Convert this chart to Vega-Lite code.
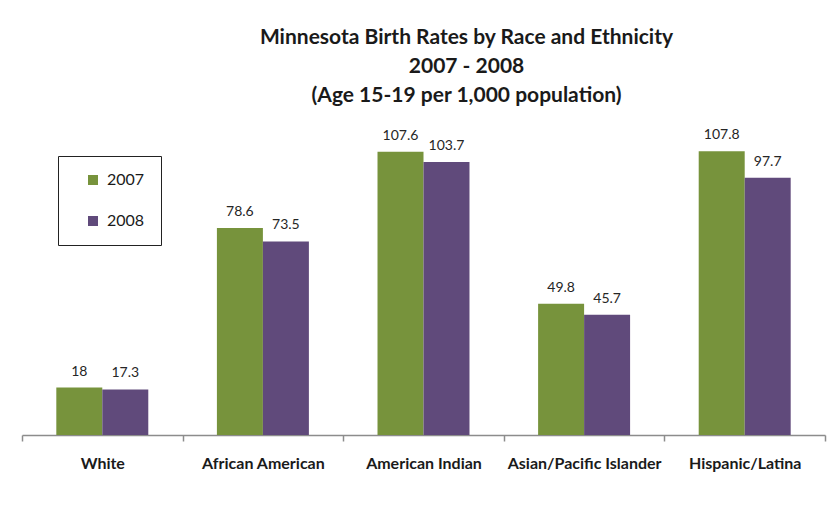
{
  "$schema": "https://vega.github.io/schema/vega-lite/v6.json",
  "width": 803,
  "height": 316,
  "autosize": {"type": "none"},
  "padding": {"left": 22, "top": 119, "right": 15, "bottom": 82},
  "background": "white",
  "title": {
    "text": ["Minnesota Birth Rates by Race and Ethnicity", "2007 - 2008", "(Age 15-19 per 1,000 population)"],
    "font": "Lato",
    "fontSize": 21,
    "fontWeight": "bold",
    "color": "#1a1a1a",
    "lineHeight": 29,
    "anchor": "middle",
    "dx": 43,
    "offset": 13
  },
  "data": {
    "values": [
      {"race": "White", "year": "2007", "rate": 18},
      {"race": "White", "year": "2008", "rate": 17.3},
      {"race": "African American", "year": "2007", "rate": 78.6},
      {"race": "African American", "year": "2008", "rate": 73.5},
      {"race": "American Indian", "year": "2007", "rate": 107.6},
      {"race": "American Indian", "year": "2008", "rate": 103.7},
      {"race": "Asian/Pacific Islander", "year": "2007", "rate": 49.8},
      {"race": "Asian/Pacific Islander", "year": "2008", "rate": 45.7},
      {"race": "Hispanic/Latina", "year": "2007", "rate": 107.8},
      {"race": "Hispanic/Latina", "year": "2008", "rate": 97.7}
    ]
  },
  "encoding": {
    "x": {
      "field": "race",
      "type": "nominal",
      "sort": ["White", "African American", "American Indian", "Asian/Pacific Islander", "Hispanic/Latina"],
      "scale": {"paddingInner": 0, "paddingOuter": 0},
      "axis": {
        "title": null,
        "labelAngle": 0,
        "tickBand": "extent",
        "domainColor": "#8c8c8c",
        "domainWidth": 1.5,
        "tickColor": "#8c8c8c",
        "tickWidth": 1.5,
        "tickSize": 6,
        "labelFont": "Lato",
        "labelFontWeight": "bold",
        "labelFontSize": 16,
        "labelColor": "#1a1a1a",
        "labelPadding": 14
      }
    },
    "xOffset": {
      "field": "year",
      "type": "nominal",
      "scale": {"paddingInner": 0, "paddingOuter": 0.746}
    },
    "y": {
      "field": "rate",
      "type": "quantitative",
      "scale": {"domain": [0, 120]},
      "axis": null
    }
  },
  "layer": [
    {
      "mark": {"type": "bar"},
      "encoding": {
        "color": {
          "field": "year",
          "type": "nominal",
          "scale": {"domain": ["2007", "2008"], "range": ["#77933C", "#604A7B"]},
          "legend": {
            "orient": "none",
            "legendX": 36,
            "legendY": 37,
            "title": null,
            "strokeColor": "#222",
            "padding": 16,
            "symbolType": "square",
            "symbolSize": 100,
            "symbolStrokeWidth": 0,
            "symbolOffset": 11,
            "labelFont": "Lato",
            "labelFontSize": 16,
            "labelColor": "#1a1a1a",
            "labelOffset": 6,
            "rowPadding": 25,
            "labelExpr": "datum.label + '\u00a0\u00a0\u00a0\u00a0\u00a0\u00a0\u00a0'"
          }
        }
      }
    },
    {
      "mark": {"type": "text", "baseline": "bottom", "dy": -9, "font": "Lato", "fontSize": 14, "color": "#262626"},
      "encoding": {
        "text": {"field": "rate", "type": "nominal"}
      }
    }
  ],
  "config": {"view": {"stroke": null}}
}
